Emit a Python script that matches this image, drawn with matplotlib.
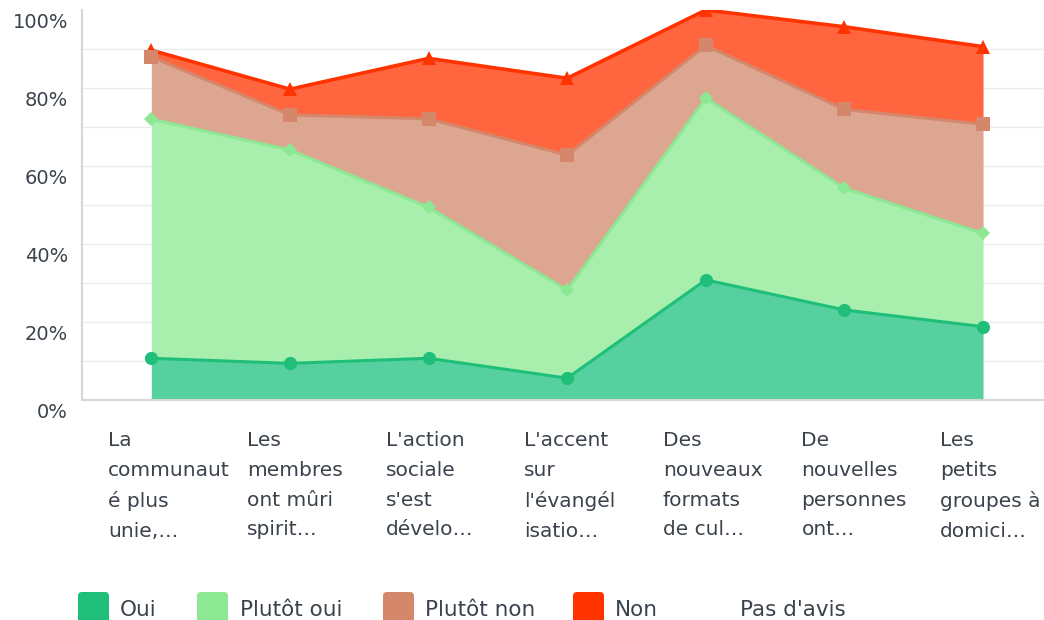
import numpy as np
import matplotlib
matplotlib.use("Agg")
import matplotlib.pyplot as plt
from matplotlib.patches import FancyBboxPatch
from matplotlib.transforms import ScaledTranslation, blended_transform_factory

# questions (wrapped the way the survey tool shows them)
categories = [
    "La\ncommunaut\né plus\nunie,…",
    "Les\nmembres\nont mûri\nspirit…",
    "L'action\nsociale\ns'est\ndévelo…",
    "L'accent\nsur\nl'évangél\nisatio…",
    "Des\nnouveaux\nformats\nde cul…",
    "De\nnouvelles\npersonnes\nont…",
    "Les\npetits\ngroupes à\ndomici…",
]

# share of answers in %
oui = [10.7, 9.4, 10.7, 5.6, 30.8, 23.1, 18.8]
plutot_oui = [61.3, 54.7, 38.7, 22.6, 46.6, 31.2, 23.9]
plutot_non = [16.0, 9.0, 22.7, 34.6, 13.5, 20.2, 28.0]
non = [1.7, 6.6, 15.5, 19.7, 9.1, 21.2, 19.9]
pas_avis = [10.3, 20.3, 12.4, 17.5, 0.0, 4.3, 9.4]

series_names = ["Oui", "Plutôt oui", "Plutôt non", "Non", "Pas d'avis"]
line_colors = ["#1FBF7A", "#8DE894", "#D4876B", "#FF3300", "#FFFFFF"]
fill_colors = ["#55D09E", "#A8EFAE", "#DCA690", "#FF6640", "#FFFFFF"]
markers = ["o", "D", "s", "^", None]
msizes = [9.5, 7, 10, 10, 0]

W, H = 1044, 620
TXT = "#3A424C"
plt.rcParams["font.family"] = ["DejaVu Sans"]

fig = plt.figure(figsize=(W / 100, H / 100), dpi=100)
ax = fig.add_axes([82 / W, 1 - 400 / H, (W - 82) / W, 390 / H])

x = np.arange(len(categories))
layers = np.array([oui, plutot_oui, plutot_non, non])
tops = np.cumsum(layers, axis=0)
bottoms = np.vstack([np.zeros(len(x)), tops[:-1]])

for i in range(len(layers)):
    ax.fill_between(x, bottoms[i], tops[i], color=fill_colors[i], lw=0, zorder=1)

# lines on top, lowest series last so its markers sit above the others
lws = [2.2, 2.2, 2.2, 2.6]
for i in reversed(range(len(layers))):
    ax.plot(x, tops[i], color=line_colors[i], lw=lws[i], marker=markers[i],
            ms=msizes[i], markeredgewidth=0, zorder=3 + (4 - i))

for v in range(10, 100, 10):
    ax.axhline(v, color="#ECECEC", lw=1, zorder=0)

ax.set_xlim(-0.5, (W - 151) / 138.67)
ax.set_ylim(0, 100)

for s in ["top", "right"]:
    ax.spines[s].set_visible(False)
for s in ["left", "bottom"]:
    ax.spines[s].set_color("#D6D6D6")
    ax.spines[s].set_linewidth(1.5)

ax.set_xticks([])
ax.set_yticks(range(0, 101, 20))
ax.set_yticklabels([f"{v}%" for v in range(0, 101, 20)])
ax.tick_params(axis="y", length=0, pad=10, labelsize=14, labelcolor=TXT)
shift = ScaledTranslation(0, -11 / 100, fig.dpi_scale_trans)
for lab in ax.get_yticklabels():
    lab.set_transform(lab.get_transform() + shift)

# category labels, left aligned under each point
trans = blended_transform_factory(ax.transData, ax.transAxes)
for i, lab in enumerate(categories):
    ax.text(i - 0.31, -31 / 390, lab, transform=trans, ha="left", va="top",
            fontsize=14.5, color=TXT, linespacing=1.72)

# legend
leg_box_x = [78, 197, 383, 573, 698]
leg_txt_x = [120, 240, 425, 615, 740]
for name, col, bx, tx in zip(series_names, line_colors, leg_box_x, leg_txt_x):
    box = FancyBboxPatch((bx / 100, (H - 624) / 100), 31 / 100, 32 / 100,
                         boxstyle="round,pad=0,rounding_size=0.04",
                         transform=fig.dpi_scale_trans, facecolor=col,
                         edgecolor="none")
    fig.patches.append(box)
    fig.text(tx / W, (H - 616) / H, name, ha="left", va="baseline",
             fontsize=15.5, color=TXT)

fig.savefig("out.png", dpi=100)
